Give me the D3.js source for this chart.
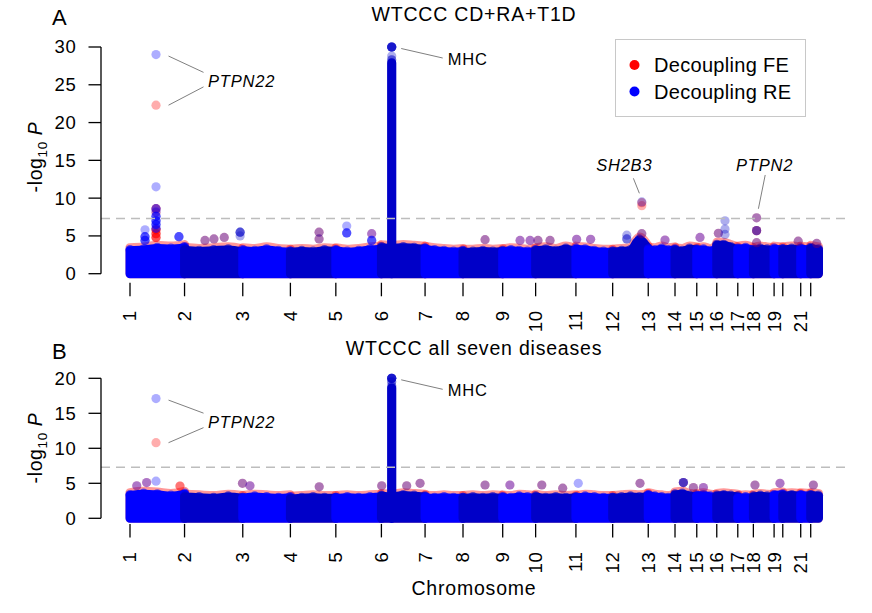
<!DOCTYPE html>
<html>
<head>
<meta charset="utf-8">
<script src="https://cdn.jsdelivr.net/npm/d3@7"></script>
<style>
  body { margin: 0; background: #fff; }
  text { font-family: "Liberation Sans", Arial, Helvetica, sans-serif; fill: #000; }
</style>
</head>
<body>
<svg id="chart" width="872" height="613"></svg>
<script>
// chromosome layout (x axis is SNP index, thousands of SNPs)
var chromosomes = ['1', '2', '3', '4', '5', '6', '7', '8', '9', '10', '11',
    '12', '13', '14', '15', '16', '17', '18', '19', '20', '21', '22'];
var tickLabels = ['1', '2', '3', '4', '5', '6', '7', '8', '9', '10', '11',
    '12', '13', '14', '15', '16', '17', '18', '19', '', '21', ''];
var snpCountK = [37.1, 39.6, 32.4, 30.9, 31.0, 29.7, 25.8, 27.0, 22.4, 27.4, 25.0,
    24.2, 18.2, 14.8, 13.6, 14.3, 10.6, 14.1, 5.9, 12.2, 6.8, 5.3];

// upper edge of the dense background of SNPs, per chromosome (-log10 P)
var envA = [
    [3.2, 3.3, 3.5, 3.4, 3.6], [3.3, 3.1, 3.2, 3.3, 3.0], [3.2, 3.1, 3.3, 3.1, 3.0],
    [3.0, 3.1, 3.0, 3.2, 3.1], [3.2, 3.0, 3.1, 3.3, 3.4], [3.6, 3.5, 3.6, 3.5, 3.4],
    [3.4, 3.2, 3.1, 3.0, 3.1], [3.0, 3.0, 3.1, 3.0, 3.1], [3.0, 3.2, 3.1, 3.0, 3.1],
    [3.2, 3.3, 3.1, 3.4, 3.1], [3.4, 3.3, 3.1, 3.0, 3.0], [3.0, 3.1, 3.2, 4.6, 3.4],
    [3.3, 3.2, 3.4, 3.2, 3.3], [3.2, 3.1, 3.4, 3.3], [3.2, 3.3, 3.1, 3.5],
    [3.9, 3.9, 3.6, 3.3], [3.4, 3.5, 3.2], [3.2, 3.4, 3.3, 3.2], [3.4, 3.3],
    [3.3, 3.4, 3.3], [3.4, 3.3], [3.5, 3.3]
];
var envB = [
    [3.4, 3.6, 3.5, 3.3, 3.6], [3.2, 3.1, 3.0, 3.2, 3.0], [3.0, 3.2, 3.1, 3.0, 3.1],
    [2.9, 3.0, 3.1, 3.0, 3.0], [3.0, 3.1, 3.0, 3.1, 3.2], [3.3, 3.2, 3.4, 3.3, 3.2],
    [3.1, 3.0, 3.1, 3.0, 3.0], [3.0, 3.1, 3.0, 3.1, 3.0], [3.1, 3.0, 3.2, 3.1, 3.0],
    [3.2, 3.0, 3.1, 3.0, 3.1], [3.0, 3.2, 3.1, 3.0, 3.0], [3.0, 3.1, 3.2, 3.1, 3.3],
    [3.4, 3.2, 3.1, 3.0, 3.2], [3.5, 3.6, 3.3, 3.2], [3.3, 3.4, 3.2, 3.1],
    [3.3, 3.4, 3.3, 3.2], [3.0, 3.1, 3.0], [3.2, 3.3, 3.2, 3.1], [3.4, 3.5],
    [3.3, 3.4, 3.3], [3.4, 3.3], [3.4, 3.3]
];

// MHC column on chromosome 6: position in chromosome and top of the solid column
var mhcPos = 7.0;
var mhcTopA = 27.9;
var mhcTopB = 18.6;

// single SNPs standing out of the background: [chromosome, position, -log10 P, number of SNPs]
var reHitsA = [
    [1, 17.7, 29.0, 1], [1, 17.7, 11.5, 1], [1, 17.7, 8.6, 2], [1, 17.7, 8.2, 1], [1, 17.7, 7.6, 3],
    [1, 17.7, 7.0, 3], [1, 17.7, 6.5, 3], [1, 17.7, 6.0, 2],
    [1, 10.2, 5.8, 1], [1, 10.2, 4.9, 3], [1, 10.2, 4.4, 3], [1, 33.3, 4.9, 3],
    [2, 13.9, 4.4, 1], [2, 20.0, 4.6, 1], [2, 27.0, 4.8, 1], [2, 37.8, 5.5, 3], [2, 37.8, 5.0, 1],
    [4, 19.5, 5.5, 1], [4, 19.5, 4.6, 1], [5, 7.4, 6.3, 1], [5, 7.4, 5.4, 3],
    [5, 24.4, 5.3, 1], [5, 24.4, 4.4, 3],
    [6, 7.0, 30.0, 6], [6, 7.0, 28.8, 1], [6, 7.0, 28.3, 2],
    [8, 15.0, 4.5, 1], [9, 11.8, 4.4, 1], [9, 18.6, 4.4, 1], [10, 1.6, 4.4, 1], [10, 9.8, 4.4, 1],
    [11, 0.5, 4.55, 1], [11, 10.0, 4.55, 1], [12, 9.6, 5.1, 1], [12, 9.6, 4.6, 2],
    [12, 19.8, 9.5, 1], [12, 19.8, 5.3, 1], [13, 11.4, 4.45, 1], [15, 2.2, 4.8, 1], [16, 1.1, 5.35, 1],
    [16, 5.6, 7.0, 1], [16, 5.6, 5.9, 1], [16, 5.6, 5.2, 1],
    [18, 2.2, 7.4, 1], [18, 2.2, 5.7, 2], [18, 2.2, 4.1, 1], [20, 10.5, 4.3, 1], [22, 4.1, 4.0, 1]
];
var feHitsA = [
    [1, 17.7, 22.3, 1], [1, 17.7, 8.6, 2], [1, 17.7, 8.1, 1], [1, 17.7, 5.8, 3], [1, 17.7, 5.3, 3],
    [1, 17.7, 4.8, 3], [2, 13.9, 4.4, 1], [2, 20.0, 4.6, 1], [2, 27.0, 4.8, 1],
    [4, 19.5, 5.5, 1], [4, 19.5, 4.6, 1], [5, 24.4, 5.3, 1],
    [8, 15.0, 4.5, 1], [9, 11.8, 4.4, 1], [9, 18.6, 4.4, 1], [10, 1.6, 4.4, 1], [10, 9.8, 4.4, 1],
    [11, 0.5, 4.55, 1], [11, 10.0, 4.55, 1], [12, 19.8, 9.4, 1], [12, 19.8, 9.0, 1], [12, 19.8, 5.3, 1],
    [13, 11.4, 4.45, 1], [15, 2.2, 4.8, 1], [16, 1.1, 5.35, 1],
    [18, 2.2, 7.4, 1], [18, 2.2, 5.7, 2], [18, 2.2, 4.1, 1], [20, 10.5, 4.3, 1], [22, 4.1, 4.0, 1]
];
var reHitsB = [
    [1, 17.7, 17.1, 1], [1, 17.7, 5.3, 1], [1, 4.6, 4.65, 1], [1, 11.3, 5.1, 1],
    [2, 39.4, 5.0, 1], [3, 4.9, 4.65, 1], [4, 19.6, 4.5, 1], [6, 0.2, 4.65, 1], [6, 17.2, 4.65, 1],
    [6, 26.3, 5.0, 1], [6, 7.0, 20.0, 6], [6, 7.0, 19.5, 2], [6, 7.0, 18.9, 2],
    [8, 15.0, 4.76, 1], [9, 4.9, 4.76, 1], [10, 4.2, 4.76, 1], [10, 18.4, 4.3, 1], [11, 1.6, 5.0, 1],
    [12, 18.6, 5.0, 1], [14, 5.7, 5.1, 3], [14, 12.5, 4.4, 1], [15, 4.5, 4.4, 1],
    [18, 1.1, 4.76, 1], [19, 4.0, 5.0, 1], [22, 1.8, 4.76, 1]
];
var feHitsB = [
    [1, 17.7, 10.8, 1], [1, 4.6, 4.65, 1], [1, 11.3, 5.1, 1], [1, 34.0, 4.6, 2],
    [2, 39.4, 5.0, 1], [3, 4.9, 4.65, 1], [4, 19.6, 4.5, 1], [6, 0.2, 4.65, 1], [6, 17.2, 4.65, 1],
    [6, 26.3, 5.0, 1], [8, 15.0, 4.76, 1], [9, 4.9, 4.76, 1], [10, 4.2, 4.76, 1], [10, 18.4, 4.3, 1],
    [12, 18.6, 5.0, 1], [14, 5.7, 5.1, 1], [14, 12.5, 4.4, 1], [15, 4.5, 4.4, 1],
    [18, 1.1, 4.76, 1], [19, 4.0, 5.0, 1], [22, 1.8, 4.76, 1]
];

var sigThreshold = 7.3; // -log10(5e-8)
var legendLabels = ['Decoupling FE', 'Decoupling RE'];

var svg = d3.select('#chart');
var RED = '#ff0000', BLUE = '#0000ff', DARKBLUE = '#0000c8';
var R = 4.6, ALPHA = 0.32;

var chromStart = [0].concat(Array.from(d3.cumsum(snpCountK)).slice(0, -1));
var total = d3.sum(snpCountK);
var x = d3.scaleLinear().domain([0, total]).range([130, 818.5]);
var plotLeft = 101, plotRight = 847;

function gpos(chr, pos) { return chromStart[chr - 1] + pos; }
function reColor(chr) { return chr % 2 === 1 ? BLUE : DARKBLUE; }

var panels = [
    {letter: 'A', title: 'WTCCC CD+RA+T1D', yMax: 30, zero: 273.7, top: 47, env: envA,
     re: reHitsA, fe: feHitsA, mhcTop: mhcTopA, letterY: 25, titleY: 20.5, yLabelY: 157},
    {letter: 'B', title: 'WTCCC all seven diseases', yMax: 20, zero: 518.3, top: 378.3, env: envB,
     re: reHitsB, fe: feHitsB, mhcTop: mhcTopB, letterY: 359.3, titleY: 355, yLabelY: 448}
];

panels.forEach(function (p) {
    var y = d3.scaleLinear().domain([0, p.yMax]).range([p.zero, p.top]);
    var bottom = y(-0.04 * p.yMax);
    p.y = y;
    var g = svg.append('g');

    // background band, one area per chromosome
    var area = d3.area()
        .x(function (d) { return x(d.pos); })
        .y0(y(0))
        .y1(function (d) { return y(d.p); })
        .curve(d3.curveMonotoneX);
    var bands = chromosomes.map(function (c, i) {
        var k = p.env[i].length;
        return p.env[i].map(function (v, j) {
            return {chr: i + 1, pos: chromStart[i] + snpCountK[i] * j / (k - 1), p: v};
        });
    });

    // FE layer peeks out as a red rim
    g.append('g').selectAll('path').data(bands).join('path')
        .attr('d', function (d) { return area(d.map(function (e) { return {pos: e.pos, p: e.p + 0.25}; })); })
        .attr('fill', RED).attr('stroke', RED).attr('stroke-width', 9)
        .attr('stroke-linejoin', 'round').attr('opacity', 0.4);

    var bg = g.append('g').selectAll('g').data(bands).join('g');
    bg.append('path')
        .attr('d', function (d) { return area(d.map(function (e) { return {pos: e.pos, p: e.p - 0.15}; })); })
        .attr('fill', function (d, i) { return reColor(i + 1); })
        .attr('stroke', function (d, i) { return reColor(i + 1); })
        .attr('stroke-width', 9).attr('stroke-linejoin', 'round');
    // the topmost background SNPs give the edge its bumps
    bg.selectAll('circle').data(function (d) { return d; }).join('circle')
        .attr('cx', function (d) { return x(d.pos); })
        .attr('cy', function (d) { return y(d.p); })
        .attr('r', R)
        .attr('fill', function (d) { return reColor(d.chr); })
        .attr('fill-opacity', 0.6);

    // MHC column
    g.append('line')
        .attr('x1', x(gpos(6, mhcPos))).attr('x2', x(gpos(6, mhcPos)))
        .attr('y1', y(0)).attr('y2', y(p.mhcTop))
        .attr('stroke', reColor(6)).attr('stroke-width', 9.2).attr('stroke-linecap', 'round');

    // individual SNPs, FE below RE
    function expand(list, method) {
        var out = [];
        list.forEach(function (h) {
            for (var n = 0; n < h[3]; n++) out.push({chr: h[0], pos: h[1], p: h[2], method: method});
        });
        return out;
    }
    var pts = expand(p.fe, 'FE').concat(expand(p.re, 'RE'));
    g.append('g').selectAll('circle').data(pts).join('circle')
        .attr('cx', function (d) { return x(gpos(d.chr, d.pos)); })
        .attr('cy', function (d) { return y(d.p); })
        .attr('r', R)
        .attr('fill', function (d) { return d.method === 'FE' ? RED : reColor(d.chr); })
        .attr('fill-opacity', ALPHA);

    // significance line
    g.append('line')
        .attr('x1', plotLeft).attr('x2', plotRight)
        .attr('y1', y(sigThreshold)).attr('y2', y(sigThreshold))
        .attr('stroke', '#bdbdbd').attr('stroke-width', 1.5).attr('stroke-dasharray', '9,6');

    // y axis
    var ya = g.append('g');
    ya.append('line').attr('x1', plotLeft).attr('x2', plotLeft)
        .attr('y1', y(0)).attr('y2', y(p.yMax)).attr('stroke', '#000').attr('stroke-width', 1.3);
    var yt = ya.selectAll('g.tick').data(y.ticks(p.yMax / 5)).join('g')
        .attr('transform', function (d) { return 'translate(0,' + y(d) + ')'; });
    yt.append('line').attr('x1', plotLeft - 12.5).attr('x2', plotLeft).attr('stroke', '#000').attr('stroke-width', 1.3);
    yt.append('text').attr('x', 76.5).attr('dy', '0.35em').attr('text-anchor', 'end')
        .style('font-size', '18.5px').style('letter-spacing', '0.7px')
        .text(function (d) { return d; });

    // x axis: a tick at each chromosome start
    var xt = g.append('g').selectAll('g').data(chromosomes).join('g')
        .attr('transform', function (d, i) { return 'translate(' + x(chromStart[i]) + ',0)'; });
    xt.append('line').attr('y1', bottom).attr('y2', bottom + 13.5).attr('stroke', '#000').attr('stroke-width', 1.3);
    xt.append('text')
        .attr('transform', 'translate(0,' + (bottom + 27.5) + ') rotate(-90)')
        .attr('dy', '0.35em').attr('text-anchor', 'end')
        .style('font-size', '18.5px').style('letter-spacing', '0.7px')
        .text(function (d, i) { return tickLabels[i]; });

    // y label
    var yl = g.append('text')
        .attr('transform', 'translate(41.5,' + p.yLabelY + ') rotate(-90)')
        .attr('text-anchor', 'middle').style('font-size', '19.5px').style('letter-spacing', '0.6px');
    yl.append('tspan').text('-log');
    yl.append('tspan').attr('dy', 5).style('font-size', '13.5px').text('10');
    yl.append('tspan').attr('dy', -5).text(' ');
    yl.append('tspan').style('font-style', 'italic').text('P');

    // panel letter and title
    g.append('text').attr('x', 52).attr('y', p.letterY).style('font-size', '22px').text(p.letter);
    g.append('text').attr('x', (plotLeft + plotRight) / 2).attr('y', p.titleY)
        .attr('text-anchor', 'middle').style('font-size', '19.5px').style('letter-spacing', '0.8px')
        .text(p.title);
});

// gene annotations
var ann = svg.append('g');
function annLine(x1, y1, x2, y2) {
    ann.append('line').attr('x1', x1).attr('y1', y1).attr('x2', x2).attr('y2', y2)
        .attr('stroke', '#808080').attr('stroke-width', 1);
}
function annText(tx, ty, label, italic, anchor) {
    ann.append('text').attr('x', tx).attr('y', ty).attr('text-anchor', anchor || 'start')
        .style('font-size', '16.5px').style('letter-spacing', '0.8px')
        .style('font-style', italic ? 'italic' : 'normal').text(label);
}

panels.forEach(function (p, k) {
    var y = p.y;
    // PTPN22: the FE and RE top hits on chromosome 1
    var px = x(gpos(1, 17.7));
    var hi = y(p.re[0][2]), lo = y(p.fe[0][2]);
    var mid = (hi + lo) / 2;
    annLine(px + 12.5, hi + 1.5, px + 47.5, mid - 7.5);
    annLine(px + 12.5, lo, px + 47.5, mid + 7);
    annText(px + 52, mid + 7, 'PTPN22', true);

    // MHC
    var mx = x(gpos(6, mhcPos)), my = y(k === 0 ? 30.0 : 20.0);
    annLine(mx + 9.5, my + 1.5, mx + 51, my + 11);
    annText(mx + 56, my + 17.5, 'MHC', false);
});

(function () {
    var y = panels[0].y;
    var sx = x(gpos(12, 19.8)), sy = y(9.5);
    annLine(sx - 8.4, sy - 23.6, sx - 2.4, sy - 8.6);
    annText(sx - 17.5, sy - 31.2, 'SH2B3', true, 'middle');

    var tx = x(gpos(18, 2.2)), ty = y(7.4);
    annLine(tx + 8.6, ty - 42.8, tx + 1.8, ty - 9);
    annText(tx + 8, ty - 47, 'PTPN2', true, 'middle');
})();

// legend
var lg = svg.append('g');
lg.append('rect').attr('x', 615.5).attr('y', 39.5).attr('width', 190).attr('height', 77)
    .attr('fill', '#fff').attr('stroke', '#c8c8c8').attr('stroke-width', 1);
var li = lg.selectAll('g.item').data(legendLabels).join('g')
    .attr('transform', function (d, i) { return 'translate(0,' + (65 + i * 26.5) + ')'; });
li.append('circle').attr('cx', 634.5).attr('r', 5).attr('fill', function (d, i) { return i === 0 ? RED : BLUE; });
li.append('text').attr('x', 654).attr('dy', '0.36em').style('font-size', '20px').style('letter-spacing', '0.3px')
    .text(function (d) { return d; });

// x label
svg.append('text').attr('x', (plotLeft + plotRight) / 2).attr('y', 595)
    .attr('text-anchor', 'middle').style('font-size', '19.5px').style('letter-spacing', '0.8px')
    .text('Chromosome');
</script>
</body>
</html>
